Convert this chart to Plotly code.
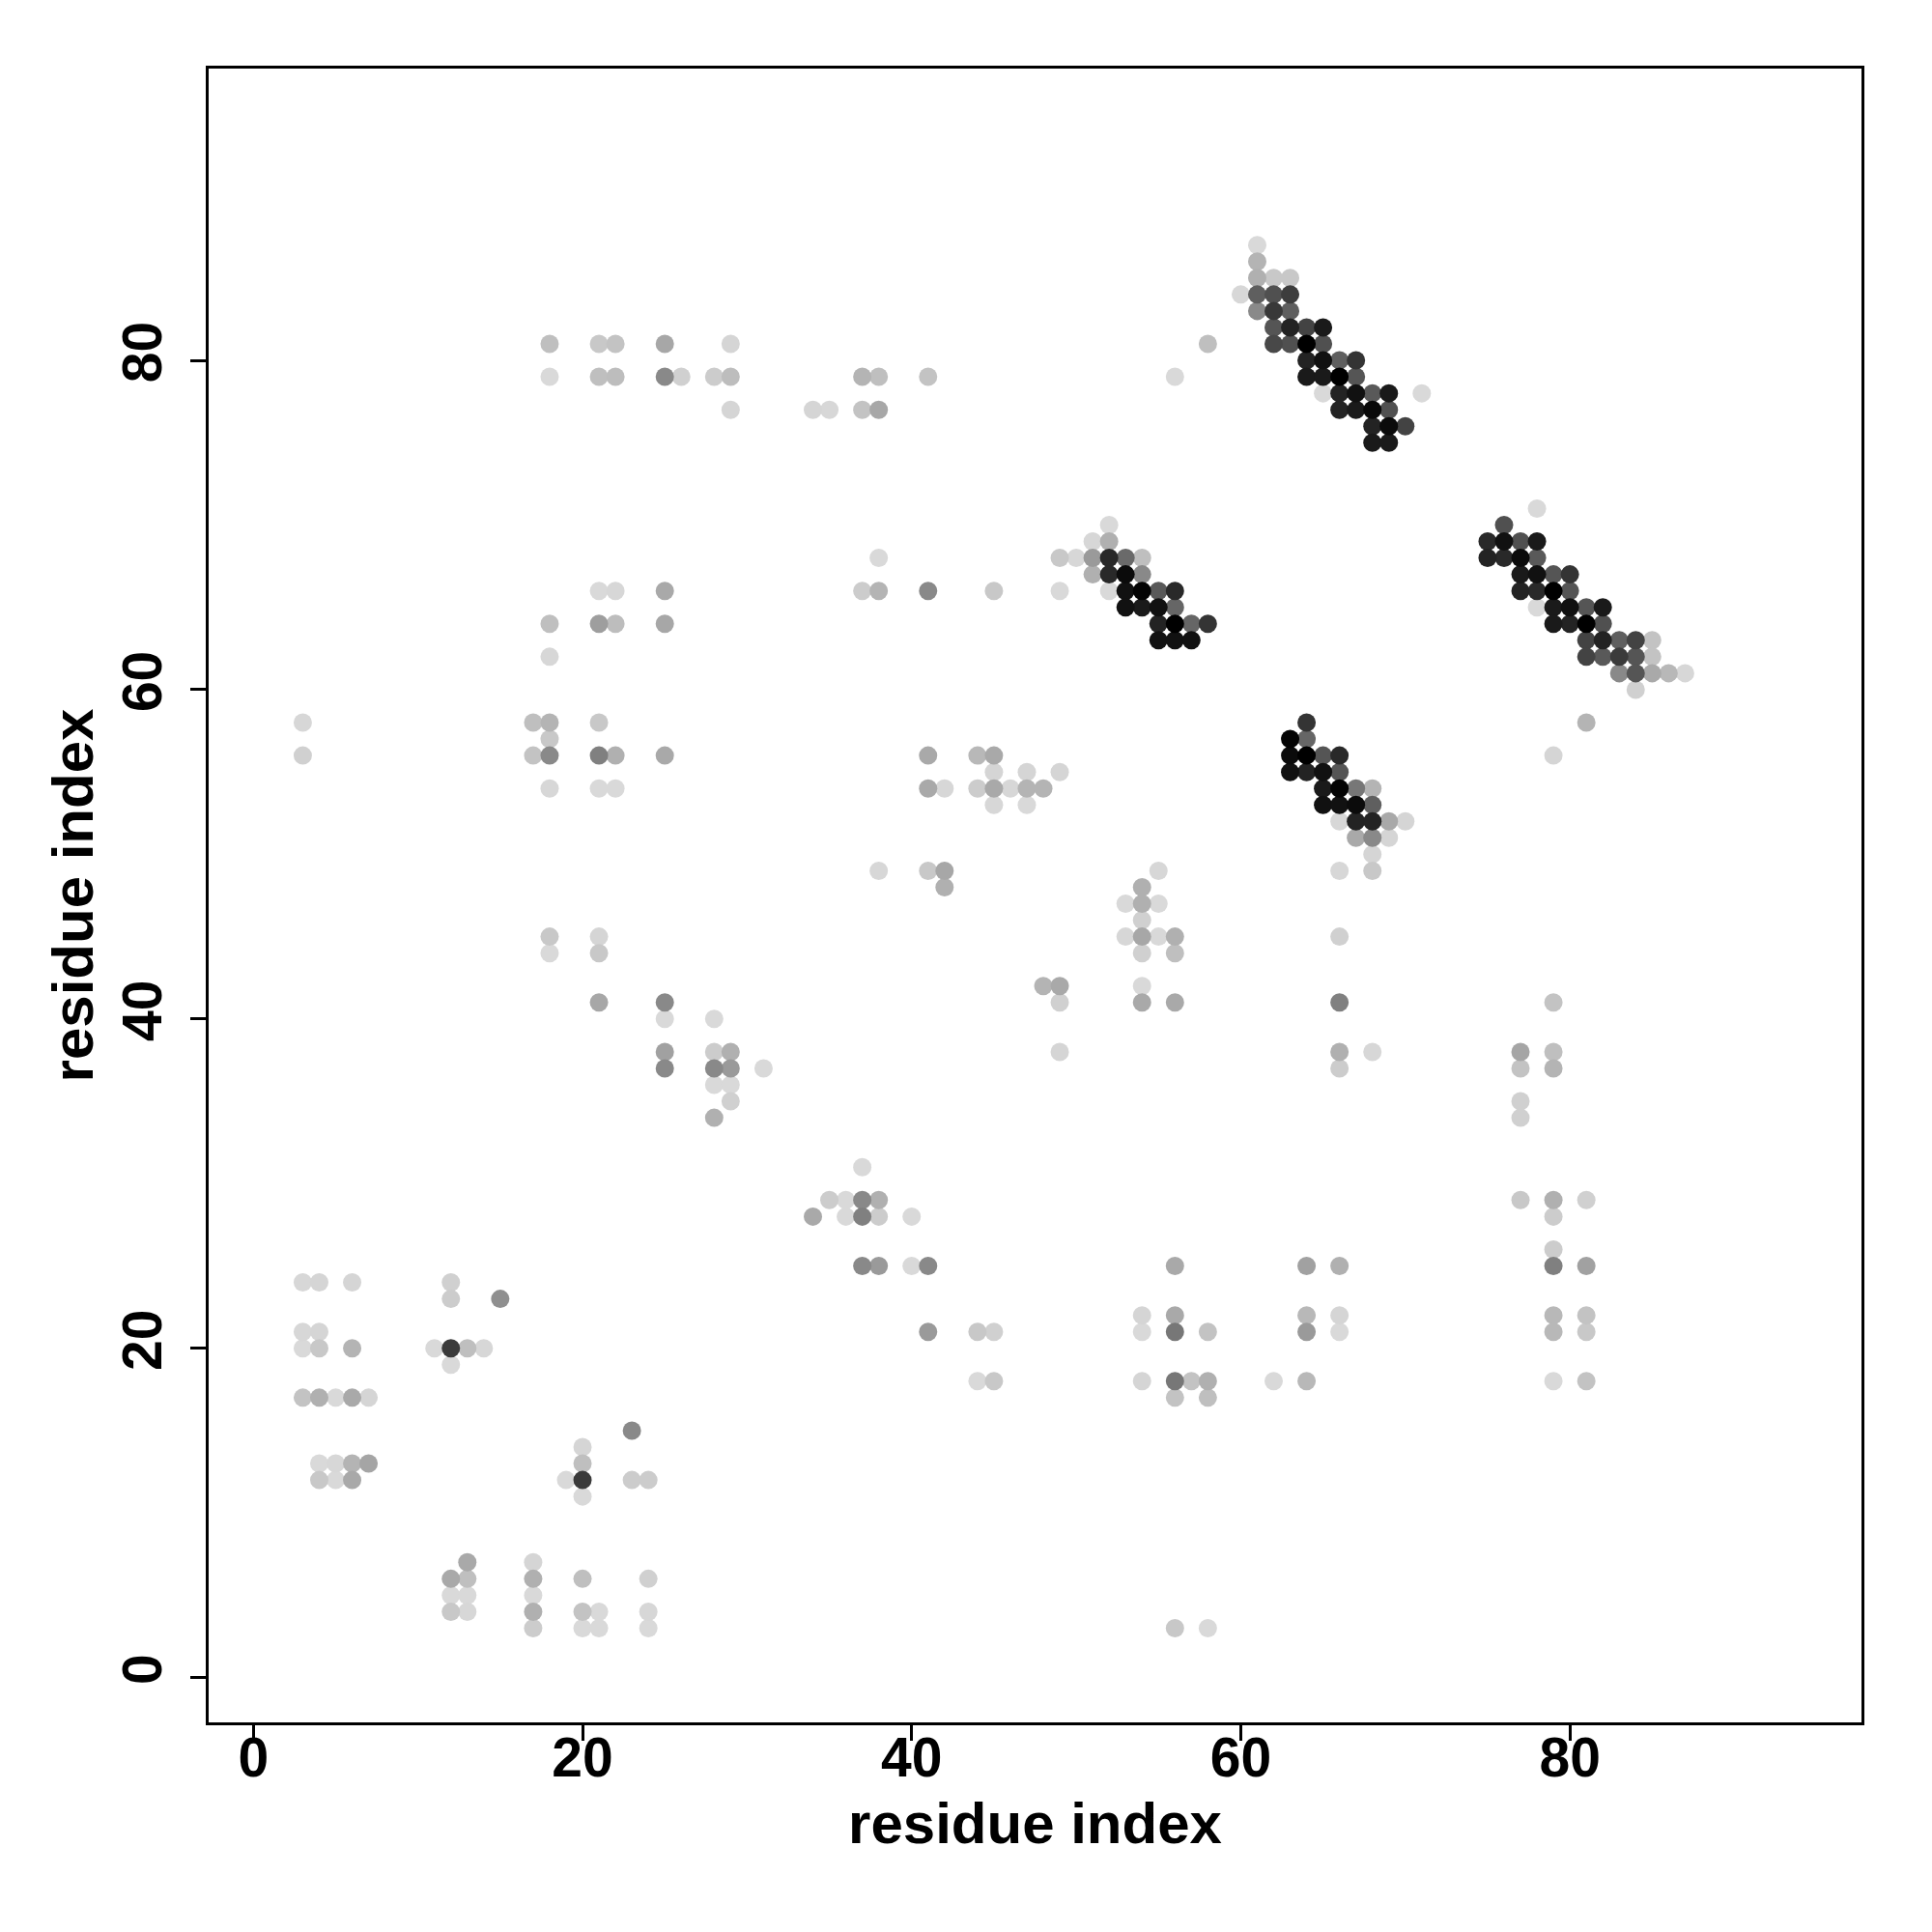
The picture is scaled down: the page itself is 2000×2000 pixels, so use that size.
import numpy as np
import plotly.graph_objects as go

# residue i (x), residue j (y), contact probability (shade)
res_i = [
    # top-left blocks
    18, 21, 22, 18, 21, 22, 21, 22, 18, 21, 22, 18,
    25, 29, 25, 26, 28, 29, 37, 38, 41, 29, 34, 35, 37, 38, 38, 25, 37, 38, 41, 25,
    # top diagonal band
    61, 61, 61, 62, 63, 60, 61, 62, 63, 61, 62, 63, 62, 63, 64, 65,
    58, 62, 63, 64, 65, 64, 65, 66, 56, 64, 65, 66, 65, 66, 66,
    67, 67, 67, 68, 69, 71, 67, 68, 69, 68, 69, 70, 68, 69,
    # middle band
    52, 51, 52, 49, 50, 51, 52, 53, 54, 51, 52, 53, 54,
    45, 49, 52, 53, 54, 55, 56, 53, 54, 55, 56, 55, 56, 57, 58, 55, 56, 57,
    # right band
    78, 76, 75, 76, 77, 78, 75, 76, 77, 78, 77, 78, 79, 80, 77, 78, 79, 80,
    78, 79, 80, 81, 82, 79, 80, 81, 82, 81, 82, 83, 84, 85, 81, 82, 83, 84, 85,
    83, 84, 85, 86, 87, 84,
    # left middle
    3, 3, 17, 18, 21, 18, 17, 18, 21, 22, 18, 21, 22, 18, 21, 18, 21, 21,
    25, 41, 44, 41, 42, 44, 38, 41, 42, 42, 25, 25, 28, 25, 28, 29,
    25, 28, 29, 31, 28, 29, 29, 28, 37, 35, 36, 37, 38,
    # centre
    45, 45, 47, 49, 45, 46, 47, 48, 45, 47, 55, 54, 53, 54, 55, 54,
    53, 54, 55, 56, 54, 56, 48, 49, 54, 49, 54, 56, 49,
    66, 66, 66, 66, 66, 66,
    64, 63, 64, 63, 64, 65, 66, 63, 64, 65, 66, 65, 66, 65, 66,
    81, 79, 67, 68, 67, 68, 67, 68, 69, 70, 67, 68, 69, 68, 68,
    79, 68, 77, 79, 77, 79, 77, 77, 77, 79, 81,
    # bottom-left
    3, 4, 6, 3, 4, 3, 4, 6, 3, 4, 5, 6, 7, 4, 5, 6, 7, 4, 5, 6,
    12, 12, 15, 11, 12, 13, 14, 12, 20, 20, 19, 20, 20,
    13, 12, 13, 12, 13, 12, 13, 17, 17, 17, 17, 17, 20, 20, 21, 20, 21,
    34, 36, 37, 38, 40, 37, 38, 40, 41, 41, 44, 44, 23, 23, 24, 24, 24, 24,
    # bottom-right
    45, 45, 56, 54, 56, 54, 56, 58, 54, 56, 57, 58, 56, 58, 56, 58,
    64, 66, 64, 66, 64, 66, 62, 64,
    79, 79, 79, 81, 79, 81, 79, 81, 79, 81,
]

res_j = [
    81, 81, 81, 79, 79, 79, 66, 66, 64, 64, 64, 62,
    81, 81, 79, 79, 79, 79, 79, 79, 79, 77, 77, 77, 77, 77, 68, 66, 66, 66, 66, 64,
    87, 86, 85, 85, 85, 84, 84, 84, 84, 83, 83, 83, 82, 82, 82, 82,
    81, 81, 81, 81, 81, 80, 80, 80, 79, 79, 79, 79, 78, 78, 77,
    80, 79, 78, 78, 78, 78, 77, 77, 77, 76, 76, 76, 75, 75,
    70, 69, 69, 68, 68, 68, 68, 68, 68, 67, 67, 67, 67,
    66, 66, 66, 66, 66, 66, 66, 65, 65, 65, 65, 64, 64, 64, 64, 63, 63, 63,
    71, 70, 69, 69, 69, 69, 68, 68, 68, 68, 67, 67, 67, 67, 66, 66, 66, 66,
    65, 65, 65, 65, 65, 64, 64, 64, 64, 63, 63, 63, 63, 63, 62, 62, 62, 62, 62,
    61, 61, 61, 61, 61, 60,
    58, 56, 58, 58, 58, 57, 56, 56, 56, 56, 54, 54, 54, 45, 45, 44, 44, 41,
    56, 56, 56, 54, 54, 54, 49, 49, 49, 48, 41, 40, 40, 38, 38, 38,
    37, 37, 37, 37, 36, 36, 35, 34, 31, 29, 29, 29, 29,
    56, 55, 55, 55, 54, 54, 54, 54, 53, 53, 49, 48, 47, 47, 47, 46,
    45, 45, 45, 45, 44, 44, 42, 42, 42, 41, 41, 41, 38,
    41, 38, 37, 45, 49, 52,
    58, 57, 57, 56, 56, 56, 56, 55, 55, 55, 55, 54, 54, 53, 53,
    58, 56, 54, 54, 53, 53, 52, 52, 52, 52, 51, 51, 51, 50, 49,
    41, 38, 38, 38, 37, 37, 35, 34, 29, 29, 29,
    24, 24, 24, 21, 21, 20, 20, 20, 17, 17, 17, 17, 17, 13, 13, 13, 13, 12, 12, 12,
    24, 23, 23, 20, 20, 20, 20, 19, 14, 13, 12, 12, 11,
    7, 6, 6, 5, 5, 4, 4, 7, 6, 5, 4, 3, 6, 4, 4, 3, 3,
    28, 28, 28, 28, 28, 25, 25, 25, 25, 21, 21, 18, 15, 12, 12, 6, 4, 3,
    21, 18, 25, 22, 22, 21, 21, 21, 18, 18, 18, 18, 17, 17, 3, 3,
    25, 25, 22, 22, 21, 21, 18, 18,
    28, 26, 25, 25, 22, 22, 21, 21, 18, 18,
]

prob = [
    0.12, 0.08, 0.10, 0.00, 0.12, 0.13, 0.00, 0.01, 0.12, 0.27, 0.13, 0.01,
    0.23, 0.02, 0.37, 0.04, 0.06, 0.13, 0.17, 0.12, 0.10, 0.02, 0.02, 0.01, 0.10, 0.23, 0.00, 0.22, 0.06, 0.17, 0.37, 0.23,
    0.00, 0.17, 0.19, 0.08, 0.08, 0.01, 0.56, 0.63, 0.72, 0.37, 0.74, 0.56, 0.61, 0.84, 0.69, 0.88,
    0.12, 0.67, 0.63, 1.00, 0.63, 0.84, 0.92, 0.56, 0.00, 0.88, 0.88, 1.00, 0.00, 0.84, 0.84,
    0.76, 0.61, 0.92, 0.59, 0.88, 0.00, 0.88, 0.96, 0.63, 0.84, 0.95, 0.69, 0.88, 0.88,
    0.00, 0.01, 0.19, 0.08, 0.01, 0.29, 0.81, 0.51, 0.12, 0.19, 0.81, 0.95, 0.37,
    0.08, 0.00, 0.00, 0.92, 0.98, 0.59, 0.81, 0.92, 0.88, 0.92, 0.53, 0.84, 1.00, 0.53, 0.76, 0.92, 0.92, 0.92,
    0.00, 0.63, 0.81, 0.92, 0.63, 0.88, 0.84, 0.81, 0.95, 0.59, 0.88, 0.92, 0.61, 0.76, 0.84, 0.81, 1.00, 0.61,
    0.00, 0.88, 0.92, 0.61, 0.88, 0.88, 0.84, 1.00, 0.63, 0.69, 0.84, 0.56, 0.69, 0.10, 0.69, 0.59, 0.73, 0.61, 0.10,
    0.37, 0.61, 0.22, 0.15, 0.01, 0.04,
    0.01, 0.04, 0.12, 0.17, 0.08, 0.08, 0.10, 0.37, 0.41, 0.19, 0.01, 0.00, 0.00, 0.08, 0.02, 0.00, 0.08, 0.23,
    0.22, 0.22, 0.15, 0.22, 0.01, 0.06, 0.01, 0.08, 0.23, 0.19, 0.37, 0.00, 0.00, 0.26, 0.06, 0.19,
    0.37, 0.37, 0.29, 0.00, 0.00, 0.00, 0.04, 0.19, 0.00, 0.06, 0.00, 0.37, 0.19,
    0.22, 0.02, 0.02, 0.02, 0.22, 0.01, 0.17, 0.17, 0.01, 0.00, 0.01, 0.19, 0.00, 0.19, 0.00, 0.04,
    0.01, 0.23, 0.00, 0.19, 0.04, 0.12, 0.17, 0.22, 0.00, 0.04, 0.22, 0.22, 0.02,
    0.41, 0.19, 0.06, 0.04, 0.01, 0.01,
    0.76, 0.98, 0.53, 0.95, 1.00, 0.61, 0.81, 0.92, 0.84, 0.92, 0.61, 0.88, 0.98, 0.92, 0.92,
    0.17, 0.02, 0.45, 0.17, 0.95, 0.56, 0.84, 0.84, 0.22, 0.02, 0.22, 0.37, 0.02, 0.02, 0.08,
    0.10, 0.01, 0.24, 0.12, 0.10, 0.17, 0.04, 0.04, 0.08, 0.19, 0.04,
    0.01, 0.02, 0.02, 0.01, 0.02, 0.00, 0.08, 0.17, 0.10, 0.19, 0.00, 0.22, 0.02, 0.00, 0.01, 0.17, 0.24, 0.08, 0.00, 0.22,
    0.04, 0.06, 0.34, 0.00, 0.73, 0.12, 0.01, 0.00, 0.02, 0.12, 0.00, 0.73, 0.00,
    0.22, 0.22, 0.12, 0.00, 0.00, 0.08, 0.01, 0.02, 0.19, 0.00, 0.19, 0.06, 0.12, 0.10, 0.00, 0.00, 0.00,
    0.22, 0.00, 0.41, 0.06, 0.00, 0.37, 0.29, 0.00, 0.37, 0.29, 0.08, 0.00, 0.37, 0.06, 0.06, 0.04, 0.01, 0.00,
    0.04, 0.08, 0.22, 0.02, 0.22, 0.00, 0.45, 0.10, 0.02, 0.45, 0.10, 0.19, 0.10, 0.12, 0.08, 0.00,
    0.26, 0.19, 0.15, 0.02, 0.29, 0.00, 0.00, 0.15,
    0.06, 0.06, 0.41, 0.26, 0.15, 0.10, 0.15, 0.08, 0.00, 0.10,
]

x_ticks = [0, 20, 40, 60, 80]
y_ticks = [0, 20, 40, 60, 80]
axis_label = "residue index"

xi = np.array(res_i)
yj = np.array(res_j)
pv = np.array(prob)
order = np.argsort(pv, kind="stable")

fig = go.Figure()
fig.add_trace(go.Scatter(
    x=xi[order], y=yj[order], mode="markers",
    marker=dict(
        size=19, color=pv[order],
        colorscale=[[0, "rgb(217,217,217)"], [1, "rgb(0,0,0)"]],
        cmin=0, cmax=1, line=dict(width=0),
    ),
    showlegend=False, hoverinfo="x+y",
))

font_family = "Liberation Sans, Arial, Helvetica, sans-serif"
title_font = dict(family=font_family, size=60, color="black", weight="bold")
common = dict(
    showline=True, mirror=True, linecolor="black", linewidth=3,
    ticks="outside", ticklen=16, tickwidth=3, tickcolor="black",
    showgrid=False, zeroline=False, automargin=False,
    tickfont=dict(family=font_family, size=57, color="black", weight="bold"),
)
fig.update_layout(
    width=1992, height=1992,
    paper_bgcolor="white", plot_bgcolor="white",
    margin=dict(l=208, r=73, t=63, b=217),
    xaxis=dict(range=[-2.72, 97.72], tickvals=x_ticks, ticklabelstandoff=-31,
               title=dict(text=axis_label, standoff=16, font=title_font),
               **common),
    yaxis=dict(range=[-2.72, 97.72], tickvals=y_ticks, tickangle=-90,
               ticklabelstandoff=7,
               title=dict(text=axis_label, standoff=0, font=title_font),
               **common),
)
fig.write_html("out.html")
